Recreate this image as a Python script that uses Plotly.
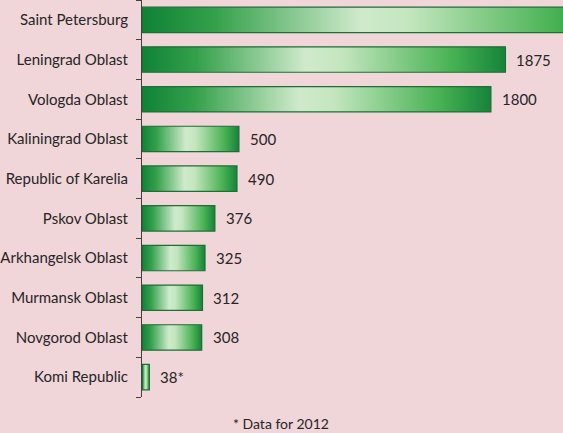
import plotly.graph_objects as go

regions = ["Saint Petersburg", "Leningrad Oblast", "Vologda Oblast", "Kaliningrad Oblast",
           "Republic of Karelia", "Pskov Oblast", "Arkhangelsk Oblast", "Murmansk Oblast",
           "Novgorod Oblast", "Komi Republic"]
values = [2500, 1875, 1800, 500, 490, 376, 325, 312, 308, 38]
value_labels = ["", "1875", "1800", "500", "490", "376", "325", "312", "308", "38*"]
footnote = "* Data for 2012"

BG = "#f0d5d9"
TEXT = "#262626"
AXIS = "#404040"
half = 0.32
scale = [[0.0, "#0f8236"], [0.15, "#34a04b"], [0.45, "#cfeacb"], [0.55, "#c4e6bf"],
         [0.85, "#49b254"], [1.0, "#14843a"]]

fig = go.Figure()
for i, (name, v) in enumerate(zip(regions, values)):
    fig.add_trace(go.Scatter(
        x=[0, v, v, 0, 0],
        y=[i - half, i - half, i + half, i + half, i - half],
        mode="lines", fill="toself",
        line=dict(color="#1d6f36", width=1.2),
        fillgradient=dict(type="horizontal", colorscale=scale),
        hoverinfo="skip", showlegend=False, name=name,
    ))

for i, (v, lab) in enumerate(zip(values, value_labels)):
    if lab:
        fig.add_annotation(x=v, y=i, text=lab, showarrow=False, xanchor="left",
                           yanchor="middle", xshift=9,
                           font=dict(family="Lato", size=15, color=TEXT))

fig.add_annotation(x=0.33, y=-0.068, xref="paper", yref="paper", text=footnote,
                   showarrow=False, xanchor="center", yanchor="middle",
                   font=dict(family="Lato", size=14, color=TEXT))

fig.update_layout(
    width=563, height=433,
    paper_bgcolor=BG, plot_bgcolor=BG,
    margin=dict(l=138, r=0, t=0, b=36),
    font=dict(family="Lato", size=15, color=TEXT),
    xaxis=dict(range=[0, 2172], visible=False, showgrid=False, zeroline=False),
    yaxis=dict(range=[9.5, -0.5], tickmode="array", tickvals=list(range(len(regions))),
               ticktext=regions, ticks="", showgrid=False, zeroline=False,
               showline=True, linecolor=AXIS, linewidth=1, ticklabelstandoff=10,
               tickfont=dict(family="Lato", size=15, color=TEXT),
               minor=dict(tickmode="array", tickvals=[k - 0.5 for k in range(len(regions) + 1)],
                          ticks="outside", ticklen=5, tickcolor=AXIS, tickwidth=1, showgrid=False)),
)

fig.write_html("out.html", config={"displayModeBar": False},
               post_script="document.body.style.margin='0';document.body.style.padding='0';"
                           "document.body.style.overflow='hidden';")
